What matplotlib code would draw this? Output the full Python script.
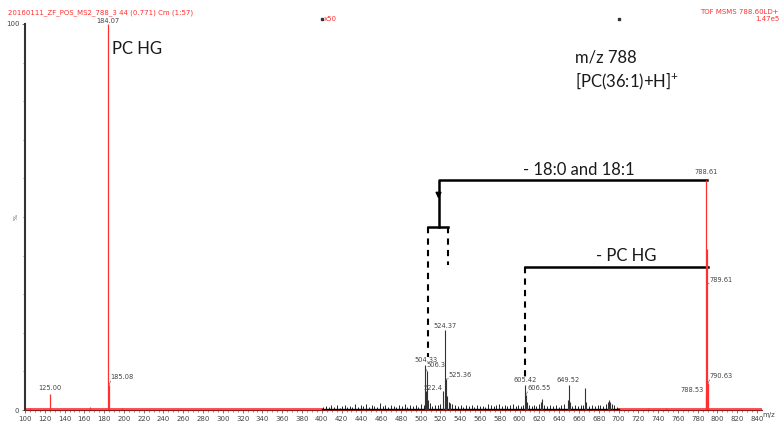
import numpy as np
import matplotlib.pyplot as plt

plt.rcParams["mathtext.fontset"] = "custom"
plt.rcParams["mathtext.rm"] = "Lato"

# main peaks (m/z, relative intensity %)
red_mz = [104.9, 125.00, 165.6, 184.07, 185.08, 198.0, 730.0, 748.0, 788.53, 788.61, 789.61, 790.63]
red_int = [0.6, 4.2, 0.7, 100.0, 6.5, 0.4, 0.6, 0.5, 4.0, 59.6, 41.7, 7.0]

# x50 region (400-700), drawn in black
blk_mz = [504.33, 505.2, 506.3, 507.4, 522.4, 524.37, 525.36, 526.4, 528.3, 530.1,
          605.42, 606.55, 607.5, 621.5, 622.6, 648.5, 649.52, 650.5, 666.4, 667.4,
          689.5, 690.6, 691.8, 693.0]
blk_int = [11.7, 5.0, 10.0, 2.5, 5.0, 20.7, 8.0, 3.5, 2.0, 1.8,
           6.5, 4.0, 2.2, 2.0, 2.8, 2.6, 6.5, 2.0, 5.7, 2.0,
           2.2, 2.6, 2.0, 1.5]

# background noise in the x50 region
noise_mz = [401, 404, 407, 409, 412, 415, 418, 420, 423, 426, 429, 431, 434, 437, 440,
            442, 445, 448, 451, 453, 456, 459, 462, 464, 467, 470, 473, 475, 478, 481,
            484, 486, 489, 492, 495, 497, 500, 503, 509, 511, 514, 517, 519, 532, 535,
            538, 541, 543, 546, 549, 552, 554, 557, 560, 563, 565, 568, 571, 574, 576,
            579, 582, 585, 587, 590, 593, 596, 598, 601, 603, 609, 612, 615, 617, 620,
            625, 628, 631, 634, 637, 640, 642, 645, 653, 656, 659, 662, 664, 670, 673,
            676, 679, 681, 684, 687, 695, 698]
noise_int = [0.8, 1.1, 0.7, 1.3, 0.9, 1.2, 0.6, 1.0, 1.4, 0.8, 1.1, 0.9, 1.5, 0.7, 1.2,
             1.0, 1.6, 0.8, 1.3, 1.1, 0.9, 1.7, 1.0, 1.2, 0.8, 1.4, 1.1, 0.9, 1.3, 1.0,
             1.5, 0.8, 1.2, 1.0, 1.4, 0.9, 1.6, 1.3, 1.8, 1.1, 1.4, 1.2, 1.6, 1.5, 1.2,
             1.0, 1.3, 0.9, 1.4, 1.1, 1.2, 0.8, 1.3, 1.0, 1.1, 0.9, 1.5, 1.2, 1.0, 1.3,
             1.6, 1.1, 1.4, 1.0, 1.2, 1.5, 1.1, 1.3, 1.0, 1.4, 1.2, 1.0, 1.3, 1.1, 1.6,
             1.2, 1.0, 1.4, 1.1, 1.3, 0.9, 1.2, 1.5, 1.1, 1.3, 1.0, 1.2, 1.4, 1.1, 1.3,
             1.0, 1.2, 1.4, 1.1, 1.5, 1.2, 0.9]

# peak labels: text, x, y (label anchor), leader from peak top
labels = [("125.00", 125.00, 4.8), ("504.33", 505.0, 12.3),
          ("524.37", 524.37, 20.9), ("605.42", 605.4, 7.1), ("649.52", 649.5, 7.1),
          ("788.61", 788.6, 61.0)]
side_labels = [("185.08", 185.08, 6.5, 186.5, 7.8), ("506.3", 506.3, 10.0, 506.0, 10.8),
               ("525.36", 525.36, 8.0, 528.0, 8.4), ("606.55", 606.55, 4.0, 608.0, 5.0),
               ("789.61", 789.61, 33.0, 791.5, 33.0), ("790.63", 790.63, 7.0, 792.0, 8.1)]
left_labels = [("522.4", 522.4, 5.0, 522.0, 5.0), ("788.53", 788.53, 4.0, 786.5, 4.3)]

red = "#ff3030"
grey = "#444444"

fig = plt.figure(figsize=(7.81, 4.23), dpi=100)
ax = fig.add_axes([25 / 781, 13 / 423, 737 / 781, 386 / 423])
ax.set_xlim(100, 845)
ax.set_ylim(0, 100)

# baseline
ax.plot([100, 400], [0.15, 0.15], color=red, lw=1.2, zorder=2)
ax.plot([700, 845], [0.15, 0.15], color=red, lw=1.2, zorder=2)
ax.plot([400, 700], [0.3, 0.3], color="black", lw=1.0, zorder=2)

ax.vlines(red_mz, 0, red_int, color=red, lw=0.9, zorder=3)
ax.vlines([789.3, 789.9], 0, [30, 20], color=red, lw=1.2, zorder=3)
ax.vlines(noise_mz, 0, noise_int, color="black", lw=0.6, zorder=3)
ax.vlines(blk_mz, 0, blk_int, color="#333333", lw=0.8, zorder=3)

ax.text(184.07, 100.85, "184.07", fontsize=4.8, color=grey, ha="center", va="center", clip_on=False)
for t, x, y in labels:
    ax.text(x, y, t, fontsize=4.8, color=grey, ha="center", va="bottom", clip_on=False)
for t, px, py, tx, ty in side_labels:
    ax.plot([px, tx], [py, ty - 0.3], color=grey, lw=0.4)
    ax.text(tx, ty, t, fontsize=4.8, color=grey, ha="left", va="bottom")
for t, px, py, tx, ty in left_labels:
    ax.text(tx, ty, t, fontsize=4.8, color=grey, ha="right", va="bottom")

# annotations
big = dict(fontsize=12, family="Lato", color="#1a1a1a")
ax.text(188, 93.6, "PC HG", ha="left", va="center", **big)
ax.text(656, 91.2, "m/z 788", ha="left", va="center", **big)
ax.text(656, 85.0, r"[PC(36:1)+H]$^{\mathrm{+}}$", ha="left", va="center", **big)
ax.text(660, 62.3, "- 18:0 and 18:1", ha="center", va="center", **big)
ax.text(708, 40.0, "- PC HG", ha="center", va="center", **big)

ax.plot([518, 518, 789], [47.4, 59.6, 59.6], color="black", lw=1.8)
ax.annotate("", xy=(518, 54), xytext=(518, 57), arrowprops=dict(arrowstyle="-|>", color="black", lw=1.2, mutation_scale=8))
ax.plot([507, 528], [47.4, 47.4], color="black", lw=1.8)
ax.plot([507, 507], [47.4, 13.7], color="black", lw=1.5, ls=(0, (3, 2.5)))
ax.plot([528, 528], [47.4, 37.6], color="black", lw=1.5, ls=(0, (3, 2.5)))
ax.plot([605, 790], [37.0, 37.0], color="black", lw=1.8)
ax.plot([605, 605], [37.0, 8.3], color="black", lw=1.5, ls=(0, (3, 2.5)))

# axes styling
for s in ["top", "right"]:
    ax.spines[s].set_visible(False)
ax.spines["left"].set_color("#333333")
ax.spines["left"].set_linewidth(1.5)
ax.spines["bottom"].set_color("#8b1a1a")
ax.spines["bottom"].set_linewidth(0.8)
ax.set_xticks(np.arange(100, 841, 20))
ax.set_xticks(np.arange(100, 845, 5), minor=True)
ax.set_yticks([0, 100])
ax.set_yticks(np.arange(0, 101, 10), minor=True)
ax.tick_params(axis="both", labelsize=5, colors=grey, length=2.5, width=0.5, pad=1.5)
ax.tick_params(which="minor", length=1.5, width=0.4, colors=grey)
ax.text(-0.012, 0.5, "%", transform=ax.transAxes, fontsize=4.5, color=grey, ha="center", va="center", rotation=90)
ax.text(1.0, -0.005, "m/z", transform=ax.transAxes, fontsize=5, color=grey, ha="left", va="top")

# header texts
fig.text(8 / 781, 1 - 12.5 / 423, "20160111_ZF_POS_MS2_788_3 44 (0.771) Cm (1:57)", fontsize=5, color=red, ha="left", va="center")
fig.text(779 / 781, 1 - 12 / 423, "TOF MSMS 788.60LD+", fontsize=5, color=red, ha="right", va="center")
fig.text(779 / 781, 1 - 19 / 423, "1.47e5", fontsize=5, color=red, ha="right", va="center")
ax.plot([400], [101.2], marker="s", ms=2, color="#333333", clip_on=False)
ax.text(402, 101.2, "x50", fontsize=5, color=red, ha="left", va="center", clip_on=False)
ax.plot([700], [101.2], marker="s", ms=2, color="#333333", clip_on=False)

fig.savefig("out.png", dpi=100)
